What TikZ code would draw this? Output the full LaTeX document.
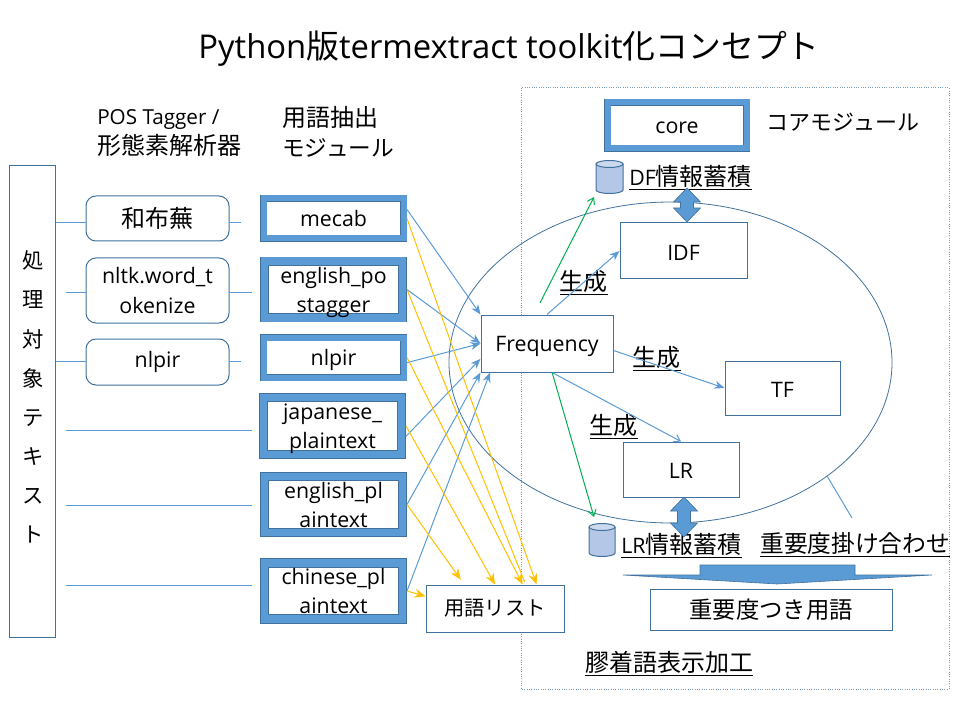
\documentclass[tikz,border=0pt]{standalone}
\usepackage{fontspec}
\setmainfont{Open Sans}
\newfontfamily\jp{Noto Sans CJK JP}
\usetikzlibrary{shapes.geometric,arrows.meta}
\def\px{0.75pt}
\definecolor{linecol}{HTML}{41719C}
\definecolor{bandcol}{HTML}{5B9BD5}
\definecolor{dbcol}{HTML}{B4C7E7}
\definecolor{yellowcol}{HTML}{FFC000}
\definecolor{greencol}{HTML}{00B050}
\tikzset{
  plainbox/.style={draw=linecol,line width=1*\px,fill=white,align=center,inner sep=0pt,font=\fontsize{16}{21.75}\selectfont},
  softbox/.style={plainbox,rounded corners=10*\px,minimum width=143*\px},
  modbox/.style={draw=linecol,line width=0.8*\px,double=bandcol,double distance=6*\px,fill=white,align=center,inner sep=0pt,outer sep=3.5*\px,font=\fontsize{16}{21.75}\selectfont},
  widebox/.style={modbox,double distance=7.5*\px,outer sep=4.5*\px,text depth=0pt},
  oneline/.style={text height=14pt,text depth=1.5pt},
  capsline/.style={text height=14pt,text depth=0pt},
  word/.style={inner sep=0pt,font=\fontsize{18}{24}\selectfont},
  stub/.style={draw=bandcol,line width=1*\px},
  toblue/.style={draw=bandcol,line width=1*\px,-{Stealth[length=10*\px,width=8*\px]}},
  toyellow/.style={draw=yellowcol,line width=1*\px,-{Stealth[length=11*\px,width=9*\px]}},
  togreen/.style={draw=greencol,line width=1*\px,-{Straight Barb[length=6*\px,width=8*\px]}},
  dbcan/.style={draw=linecol,line width=1*\px,fill=dbcol},
  blockarrow/.style={fill=bandcol,draw=linecol,line width=.6*\px}
}
% drum: left, right, top, bottom
\newcommand{\dbdrum}[4]{
  \draw[dbcan] (#1,#3) -- (#1,#4) arc[start angle=180,end angle=360,x radius=#2*\px/2-#1*\px/2,y radius=3.5*\px] -- (#2,#3);
  \draw[dbcan,fill=dbcol!70] ({(#1+#2)/2},#3) ellipse[x radius=#2*\px/2-#1*\px/2,y radius=3.5*\px];
}
% up and down block arrow: centre, top, bottom
\newcommand{\twoway}[3]{
  \draw[blockarrow] (#1,#2) -- (#1+13.5,#2+14) -- (#1+6.5,#2+14) -- (#1+6.5,#3-14) -- (#1+13.5,#3-14) -- (#1,#3) -- (#1-13.5,#3-14) -- (#1-6.5,#3-14) -- (#1-6.5,#2+14) -- (#1-13.5,#2+14) -- cycle;
}
\begin{document}
\begin{tikzpicture}[x=0.75pt,y=-0.75pt]
\useasboundingbox (0,0) rectangle (960,720);

\node[font=\fontsize{24.6}{30}\selectfont,inner sep=0pt] (title) at (509,48.5) {Python{\jp 版}termextract toolkit{\jp 化コンセプト}};

% frame and ring
\draw[draw=linecol!70,line width=1*\px,densely dotted] (521,88) rectangle (949,689);
\node[ellipse,draw=linecol,line width=.8*\px,minimum width=443*\px,minimum height=321*\px,inner sep=0pt] (ring) at (670.5,362.5) {};
\coordinate (ringend) at (852,518);
\draw[stub] (ring.-36) -- (ringend);

% text to process
\node[plainbox,minimum width=46*\px,minimum height=471*\px] (target) at (32.5,401.5) {};
\node[word,align=center,font=\fontsize{16}{29.3}\jp\selectfont] (targettext) at (33,397) {処\\理\\対\\象\\テ\\キ\\ス\\ト};

\node[word,anchor=west,font=\fontsize{15.5}{22.5}\selectfont,align=left] (taggerhead) at (97,133) {POS Tagger /\\{\jp\fontsize{18}{22.5}\selectfont 形態素解析器}};
\node[word,anchor=west,font=\fontsize{18}{22.5}\jp\selectfont,align=left] (modhead) at (282,132) {用語抽出\\{\fontsize{17}{22.5}\selectfont モジュール}};

\node[softbox,minimum height=45*\px,font=\fontsize{18}{24}\jp\selectfont] (wakame) at (157.5,218.5) {和布蕪};
\node[softbox,minimum height=65*\px] (nltk) at (157.5,290.5) {nltk.word\_t\\okenize};
\node[softbox,minimum height=46*\px] (tagnlpir) at (157.5,362) {nlpir};

\node[modbox,oneline,minimum width=140*\px,minimum height=40*\px] (mecab) at (333.5,218.5) {mecab};
\node[widebox,minimum width=138*\px,minimum height=56.5*\px] (engpos) at (333.5,289.5) {english\_po\\stagger};
\node[modbox,oneline,minimum width=140*\px,minimum height=40*\px] (nlpir) at (333.5,357.5) {nlpir};
\node[widebox,minimum width=138*\px,minimum height=57*\px] (japlain) at (332.5,426) {japanese\_\\plaintext};
\node[widebox,minimum width=138*\px,minimum height=56*\px] (enplain) at (333.5,504.5) {english\_pl\\aintext};
\node[widebox,minimum width=138*\px,minimum height=56*\px] (zhplain) at (333.5,591) {chinese\_pl\\aintext};

\coordinate (wakameend) at (241,223);
\coordinate (nltkstart) at (66,293);
\coordinate (nltkend) at (252,293);
\coordinate (nlpirend) at (241,361);
\draw[stub] (target.east |- 0,223) -- (wakame.west |- 0,223);
\draw[stub] (wakame.east |- 0,223) -- (wakameend);
\draw[stub] (nltkstart) -- (nltk.west |- 0,293);
\draw[stub] (nltk.east |- 0,293) -- (nltkend);
\draw[stub] (target.east |- 0,361) -- (tagnlpir.west |- 0,361);
\draw[stub] (tagnlpir.east |- 0,361) -- (nlpirend);
\foreach \y in {430.5,505.5,585} {
  \draw[stub] (66,\y) -- (252,\y);
}

\node[plainbox,oneline,minimum width=132*\px,minimum height=57*\px] (freq) at (547,343.5) {Frequency};
\node[plainbox,capsline,minimum width=127*\px,minimum height=56*\px] (idf) at (683.5,251) {IDF};
\node[plainbox,capsline,minimum width=115*\px,minimum height=54*\px] (tf) at (782.5,388) {TF};
\node[plainbox,capsline,minimum width=116*\px,minimum height=55*\px] (lr) at (681,469.5) {LR};
\node[plainbox,minimum width=138*\px,minimum height=47*\px,font=\fontsize{15.2}{22}\jp\selectfont] (termlist) at (495,608.5) {用語リスト};
\node[plainbox,minimum width=242*\px,minimum height=41*\px,font=\fontsize{17.5}{22}\jp\selectfont] (scored) at (771,609.5) {重要度つき用語};
\node[modbox,oneline,minimum width=139*\px,minimum height=46*\px] (core) at (677,125.5) {core};
\node[word,font=\fontsize{16.5}{22}\jp\selectfont] (corehead) at (843,122) {コアモジュール};

\dbdrum{596}{623}{164}{190}
\dbdrum{589}{615}{527}{553}
\coordinate (dfnear) at (594,197);
\coordinate (lrnear) at (594,517);

\node[word,anchor=west] (dflabel) at (629,178) {\underline{\fontsize{16}{22}\selectfont DF{\jp\fontsize{18}{22}\selectfont 情報蓄積}}};
\node[word,anchor=west] (lrlabel) at (621,546) {\underline{\fontsize{16}{22}\selectfont LR{\jp\fontsize{18}{22}\selectfont 情報蓄積}}};
\node[word,anchor=west,font=\fontsize{17.8}{22}\jp\selectfont] (mullabel) at (760,545) {\underline{重要度掛け合わせ}};
\node[word,anchor=west,font=\fontsize{18}{22}\jp\selectfont] (gluelabel) at (585,664) {\underline{膠着語表示加工}};
\node[word,font=\fontsize{18}{22}\jp\selectfont] (genidf) at (583.5,283) {\underline{生成}};
\node[word,font=\fontsize{18}{22}\jp\selectfont] (gentf) at (656.5,359) {\underline{生成}};
\node[word,font=\fontsize{18}{22}\jp\selectfont] (genlr) at (613.5,427) {\underline{生成}};

\twoway{687}{188}{222}
\twoway{684}{497}{537}
\draw[blockarrow] (700,565) -- (855,565) -- (855,575) -- (932,575) -- (777,584) -- (623,575) -- (700,575) -- cycle;

% blue into Frequency
\draw[toblue] (mecab.7) -- (freq.north west);
\draw[toblue] (engpos.east) -- (freq.west);
\draw[toblue] (nlpir.-4) -- (freq.west);
\draw[toblue] (japlain.-8) -- (freq.193);
\draw[toblue] (enplain.east) -- (freq.south west);
\draw[toblue] (zhplain.east) -- (freq.207);
% blue out of Frequency
\draw[toblue] (freq.north) -- (idf.west);
\draw[toblue] (freq.-6) -- (tf.west);
\draw[draw=bandcol,line width=1*\px,-{Straight Barb[length=6*\px,width=8*\px]}] (freq.-80) -- (lr.north);
% green
\draw[togreen,shorten <=13*\px] (freq.114) -- (dfnear);
\draw[togreen] (freq.-80) -- (lrnear);
% yellow
\draw[toyellow] (mecab.east) -- (termlist.30);
\draw[draw=yellowcol,line width=1*\px,shorten >=3*\px] (engpos.east) -- (termlist.38);
\draw[toyellow] (nlpir.east) -- (termlist.41);
\draw[toyellow] (japlain.east) -- (termlist.north);
\draw[toyellow,shorten >=6*\px] (enplain.east) -- (termlist.142);
\draw[toyellow] (zhplain.east) -- (termlist.170);
\end{tikzpicture}
\end{document}
